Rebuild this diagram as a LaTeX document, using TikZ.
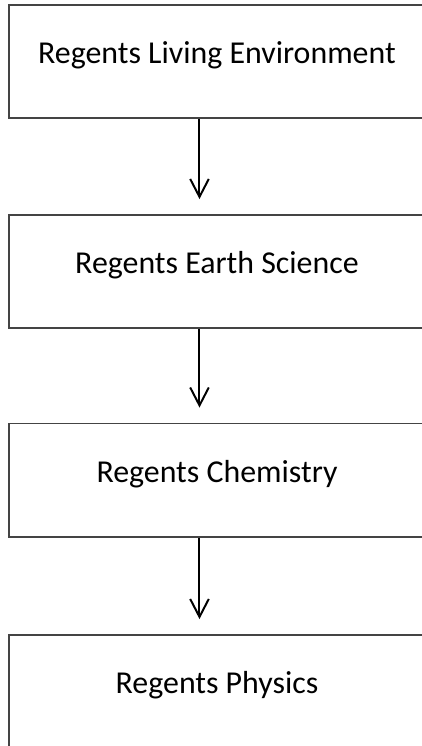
\documentclass[tikz,border=0pt]{standalone}
\usepackage{fontspec}
\setmainfont{Carlito}
\usetikzlibrary{arrows.meta, positioning, calc}
\definecolor{boxline}{HTML}{444444}
\definecolor{arrowcolor}{HTML}{000000}

\begin{document}
\begin{tikzpicture}[
    every node/.style={font=\fontsize{24}{29}\selectfont},
    stage/.style={draw=boxline, line width=1.5pt, minimum width=11.006cm,
        minimum height=2.99cm, text height=0.7em, text depth=0.33em, inner sep=0pt},
    flow/.style={arrowcolor, line width=1.5pt, -{Straight Barb[length=13.5pt, width=14pt]},
        shorten >=11.25pt},
]
\useasboundingbox (0,0) rectangle (11.165,-19.738);

% the four courses, top to bottom
\foreach \y/\name/\txt in {-1.627/living/{Regents Living Environment},
        -7.183/earth/{Regents Earth Science},
        -12.700/chem/{Regents Chemistry},
        -18.296/phys/{Regents Physics}}{
    \node[stage] (\name) at (5.741, \y) {\txt};
}

% arrows sit a little left of the box centres
\coordinate (arrx) at (5.278, 0);
\foreach \a/\b in {living/earth, earth/chem, chem/phys}{
    \draw[flow] (\a.south -| arrx) -- (\b.north -| arrx);
}
\end{tikzpicture}
\end{document}
